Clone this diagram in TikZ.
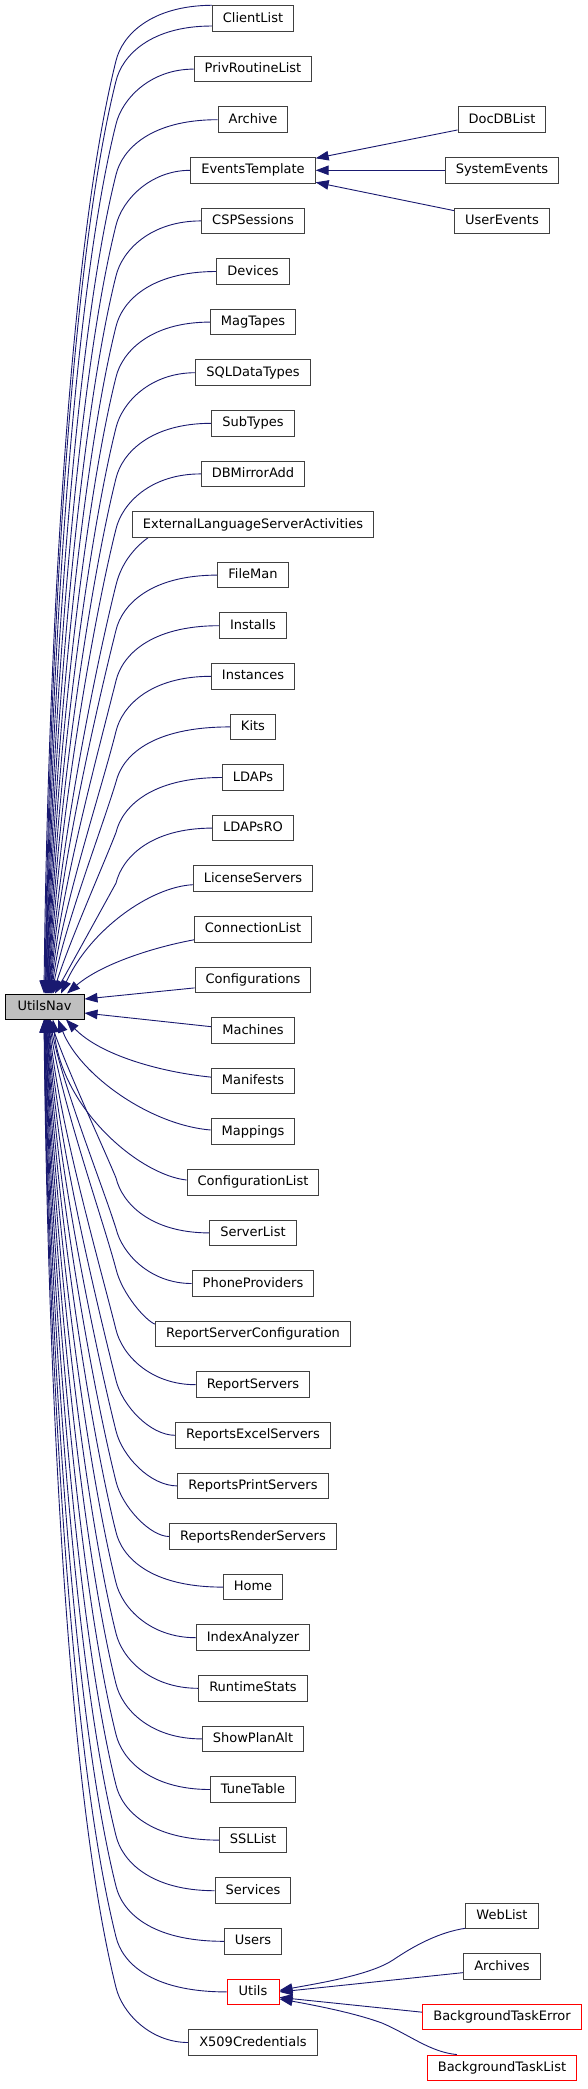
\documentclass[tikz,border=0pt]{standalone}
\usepackage{fontspec}
\setmainfont{DejaVu Sans}
\usetikzlibrary{arrows.meta,calc,backgrounds}
\definecolor{edgeblue}{HTML}{191970}
\definecolor{boxgray}{HTML}{404040}
\definecolor{navfill}{HTML}{BFBFBF}
\definecolor{boxred}{HTML}{FF0000}
\tikzset{
  box/.style={draw=boxgray, line width=1pt, fill=white, font=\fontsize{13}{15}\selectfont,
    inner xsep=10.5pt, inner ysep=0pt, minimum height=25.5pt, text height=10pt, text depth=3pt},
  redframe/.style={box, draw=boxred},
  navbox/.style={box, fill=navfill, draw=black, minimum width=79pt, minimum height=25pt},
  conn/.style={draw=edgeblue, line width=0.9pt, {Triangle[length=13pt,width=9.5pt]}-},
}
% upper edge: #1 start coord, #2 start y, #3 end x on UtilsNav, #4 first bend control
\newcommand\UEdge[4]{%
  \pgfmathsetmacro\ueBy{#2+55}%
  \pgfmathsetmacro\ueD{994-\ueBy}%
  \pgfmathsetmacro\ueA{116-#3}%
  \pgfmathsetmacro\ueS{max(0.25,\ueA/\ueD)}%
  \pgfmathsetmacro\ueL{0.215*\ueD}%
  \pgfmathsetmacro\ueCBx{max(116-\ueS*\ueL,#3+2)}%
  \pgfmathsetmacro\ueCBy{\ueBy+\ueL}%
  \pgfmathsetmacro\ueCEx{#3+0.32*\ueA*min(1,130/\ueD)}%
  \pgfmathsetmacro\ueCEy{994-0.32*\ueD}%
  \pgfmathsetmacro\ueCy{\ueBy-25}%
  \draw[conn] (#3,0 |- UtilsNav.north) .. controls (\ueCEx,\ueCEy) and (\ueCBx,\ueCBy) .. (116,\ueBy) .. controls (122,\ueCy) and (#4) .. (#1);%
}
% lower edge
\newcommand\LEdge[4]{%
  \pgfmathsetmacro\ueBy{#2-55}%
  \pgfmathsetmacro\ueD{\ueBy-1019}%
  \pgfmathsetmacro\ueA{116-#3}%
  \pgfmathsetmacro\ueS{max(0.25,\ueA/\ueD)}%
  \pgfmathsetmacro\ueL{0.215*\ueD}%
  \pgfmathsetmacro\ueCBx{max(116-\ueS*\ueL,#3+2)}%
  \pgfmathsetmacro\ueCBy{\ueBy-\ueL}%
  \pgfmathsetmacro\ueCEx{#3+0.32*\ueA*min(1,130/\ueD)}%
  \pgfmathsetmacro\ueCEy{1019+0.32*\ueD}%
  \pgfmathsetmacro\ueCy{\ueBy+25}%
  \draw[conn] (#3,0 |- UtilsNav.south) .. controls (\ueCEx,\ueCEy) and (\ueCBx,\ueCBy) .. (116,\ueBy) .. controls (122,\ueCy) and (#4) .. (#1);%
}
\begin{document}
\begin{tikzpicture}[x=1pt,y=-1pt]
\useasboundingbox (0,0) rectangle (587,2089);
% nodes
\node[navbox] (UtilsNav) at (44.5,1006.5) {UtilsNav};
\node[box] (ClientList) at (253,18.5) {ClientList};
\node[box] (PrivRoutineList) at (253,69.1) {PrivRoutineList};
\node[box] (Archive) at (253,119.7) {Archive};
\node[box] (EventsTemplate) at (253,170.3) {EventsTemplate};
\node[box] (CSPSessions) at (253,220.9) {CSPSessions};
\node[box] (Devices) at (253,271.5) {Devices};
\node[box] (MagTapes) at (253,322.1) {MagTapes};
\node[box] (SQLDataTypes) at (253,372.7) {SQLDataTypes};
\node[box] (SubTypes) at (253,423.3) {SubTypes};
\node[box] (DBMirrorAdd) at (253,473.9) {DBMirrorAdd};
\node[box] (ExtLang) at (253,524.5) {ExternalLanguageServerActivities};
\node[box] (FileMan) at (253,575.1) {FileMan};
\node[box] (Installs) at (253,625.7) {Installs};
\node[box] (Instances) at (253,676.3) {Instances};
\node[box] (Kits) at (253,726.9) {Kits};
\node[box] (LDAPs) at (253,777.5) {LDAPs};
\node[box] (LDAPsRO) at (253,828.1) {LDAPsRO};
\node[box] (LicenseServers) at (253,878.7) {LicenseServers};
\node[box] (ConnectionList) at (253,929.3) {ConnectionList};
\node[box] (Configurations) at (253,979.9) {Configurations};
\node[box] (Machines) at (253,1030.5) {Machines};
\node[box] (Manifests) at (253,1081.1) {Manifests};
\node[box] (Mappings) at (253,1131.7) {Mappings};
\node[box] (ConfigurationList) at (253,1182.3) {ConfigurationList};
\node[box] (ServerList) at (253,1232.9) {ServerList};
\node[box] (PhoneProviders) at (253,1283.5) {PhoneProviders};
\node[box] (ReportServerConfiguration) at (253,1334.1) {ReportServerConfiguration};
\node[box] (ReportServers) at (253,1384.7) {ReportServers};
\node[box] (ReportsExcelServers) at (253,1435.3) {ReportsExcelServers};
\node[box] (ReportsPrintServers) at (253,1485.9) {ReportsPrintServers};
\node[box] (ReportsRenderServers) at (253,1536.5) {ReportsRenderServers};
\node[box] (Home) at (253,1587.1) {Home};
\node[box] (IndexAnalyzer) at (253,1637.7) {IndexAnalyzer};
\node[box] (RuntimeStats) at (253,1688.3) {RuntimeStats};
\node[box] (ShowPlanAlt) at (253,1738.9) {ShowPlanAlt};
\node[box] (TuneTable) at (253,1789.5) {TuneTable};
\node[box] (SSLList) at (253,1840.1) {SSLList};
\node[box] (Services) at (253,1890.7) {Services};
\node[box] (Users) at (253,1941.3) {Users};
\node[redframe, minimum width=52pt] (Utils) at (253,1991.9) {Utils};
\node[box] (X509Credentials) at (253,2042.5) {X509Credentials};
\node[box] (DocDBList) at (502,119.7) {DocDBList};
\node[box] (SystemEvents) at (502,170.3) {SystemEvents};
\node[box] (UserEvents) at (502,220.9) {UserEvents};
\node[box] (WebList) at (502,1916.0) {WebList};
\node[box] (Archives) at (502,1966.6) {Archives};
\node[redframe] (BackgroundTaskError) at (502,2017.2) {BackgroundTaskError};
\node[redframe] (BackgroundTaskList) at (502,2067.8) {BackgroundTaskList};
\begin{scope}[on background layer]
\fill[white] (0,0) rectangle (587,2089);
% upper children
\UEdge{ClientList.north west}{5.75}{44}{150,5.75}
\UEdge{$(ClientList.west)+(0,7.5)$}{26}{45}{150,26}
\UEdge{PrivRoutineList.west}{69.1}{45.5}{150,69.1}
\UEdge{Archive.west}{119.7}{46}{150,119.7}
\UEdge{EventsTemplate.west}{170.3}{46.5}{150,170.3}
\UEdge{CSPSessions.west}{220.9}{47}{150,220.9}
\UEdge{Devices.west}{271.5}{47.5}{150,271.5}
\UEdge{MagTapes.west}{322.1}{48}{150,322.1}
\UEdge{SQLDataTypes.west}{372.7}{48.5}{150,372.7}
\UEdge{SubTypes.west}{423.3}{49}{150,423.3}
\UEdge{DBMirrorAdd.west}{473.9}{49.5}{150,473.9}
\UEdge{$(ExtLang.south west)+(16,0)$}{530}{50}{138,545}
\UEdge{FileMan.west}{575.1}{50.5}{150,575.1}
\UEdge{Installs.west}{625.7}{51}{150,625.7}
\UEdge{Instances.west}{676.3}{51.5}{150,676.3}
\UEdge{Kits.west}{726.9}{52}{150,726.9}
\UEdge{LDAPs.west}{777.5}{53}{150,777.5}
\UEdge{LDAPsRO.west}{828.1}{55}{150,828.1}
\draw[conn] (61,0 |- UtilsNav.north) .. controls (90,930) and (150,887) .. ($(LicenseServers.west)+(0,6)$);
\draw[conn] (67,0 |- UtilsNav.north) .. controls (100,965) and (150,948) .. ($(ConnectionList.west)+(0,10.5)$);
\draw[conn] ($(UtilsNav.east)+(0,-7.5)$) -- ($(Configurations.west)+(0,8)$);
% lower children
\draw[conn] ($(UtilsNav.east)+(0,6.5)$) -- ($(Machines.west)+(0,-3.8)$);
\draw[conn] (66,0 |- UtilsNav.south) .. controls (100,1055) and (160,1072) .. ($(Manifests.west)+(0,-4)$);
\draw[conn] (58,0 |- UtilsNav.south) .. controls (80,1075) and (150,1125) .. ($(Mappings.west)+(0,-1.7)$);
\draw[conn] (53,0 |- UtilsNav.south) .. controls (62,1110) and (140,1175) .. ($(ConfigurationList.west)+(0,-2.3)$);
\LEdge{ServerList.west}{1232.9}{50}{150,1232.9}
\LEdge{PhoneProviders.west}{1283.5}{49.6}{150,1283.5}
\LEdge{$(ReportServerConfiguration.west)+(0,-10)$}{1324}{49.2}{146,1321}
\LEdge{ReportServers.west}{1384.7}{48.8}{150,1384.7}
\LEdge{ReportsExcelServers.west}{1435.3}{48.4}{150,1435.3}
\LEdge{ReportsPrintServers.west}{1485.9}{48}{150,1485.9}
\LEdge{ReportsRenderServers.west}{1536.5}{47.6}{150,1536.5}
\LEdge{Home.west}{1587.1}{47.2}{150,1587.1}
\LEdge{IndexAnalyzer.west}{1637.7}{46.8}{150,1637.7}
\LEdge{RuntimeStats.west}{1688.3}{46.4}{150,1688.3}
\LEdge{ShowPlanAlt.west}{1738.9}{46}{150,1738.9}
\LEdge{TuneTable.west}{1789.5}{45.6}{150,1789.5}
\LEdge{SSLList.west}{1840.1}{45.2}{150,1840.1}
\LEdge{Services.west}{1890.7}{44.8}{150,1890.7}
\LEdge{Users.west}{1941.3}{44.4}{150,1941.3}
\LEdge{Utils.west}{1991.9}{44.2}{150,1991.9}
\LEdge{X509Credentials.west}{2042.5}{44}{150,2042.5}
% EventsTemplate children
\draw[conn] ($(EventsTemplate.east)+(0,-12)$) -- ($(DocDBList.south west)+(0,-3)$);
\draw[conn] (EventsTemplate.east) -- (SystemEvents.west);
\draw[conn] ($(EventsTemplate.east)+(0,12)$) -- ($(UserEvents.north west)+(0,3)$);
% Utils children
\draw[conn] ($(Utils.east)+(0,-1.5)$) .. controls (320,1983) and (370,1975) .. (393,1960) .. controls (415,1945) and (440,1932) .. ($(WebList.south west)+(0,-1)$);
\draw[conn] (Utils.east) -- ($(Archives.west)+(0,6)$);
\draw[conn] ($(Utils.east)+(0,5.5)$) -- ($(BackgroundTaskError.west)+(0,-5)$);
\draw[conn] ($(Utils.east)+(0,7)$) .. controls (330,2008) and (360,2015) .. (382,2023) .. controls (410,2035) and (430,2052) .. ($(BackgroundTaskList.north west)+(30,0)$);
\end{scope}
\end{tikzpicture}
\end{document}
